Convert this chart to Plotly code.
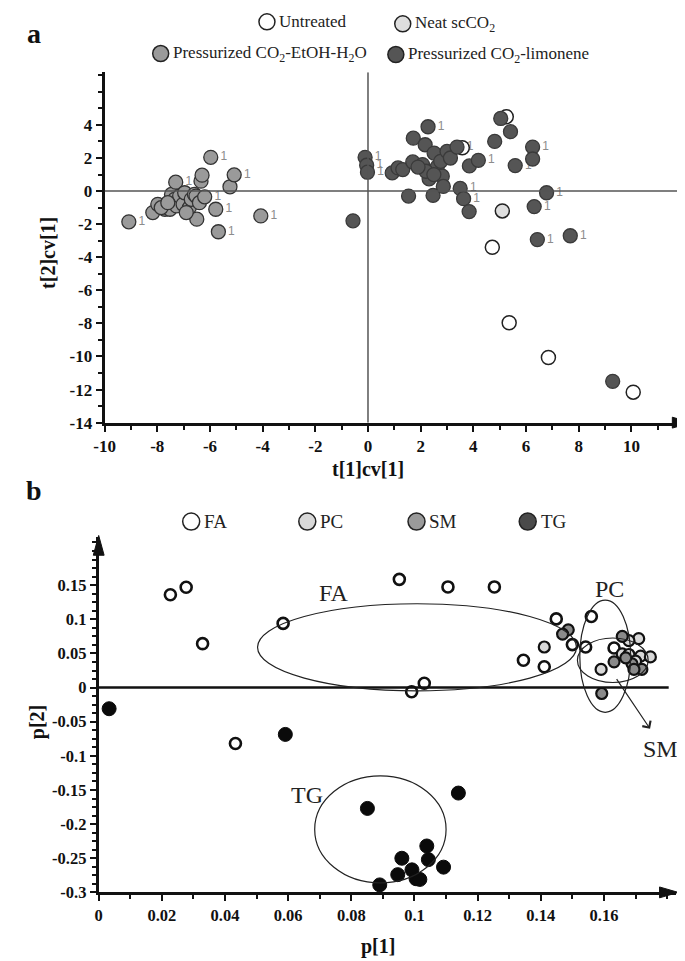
import plotly.graph_objects as go

W, H = 685, 961

# ---------------- Panel a data (scores) ----------------
untreated_x = [4.72, 5.36, 6.85, 10.07, 5.25, 3.58]
untreated_y = [-3.40, -7.96, -10.06, -12.16, 4.50, 2.62]

neat_x = [5.10]
neat_y = [-1.20]

etoh_x = [-9.08, -8.17, -7.98, -7.71, -7.52, -7.46, -7.30, -7.34, -7.27, -7.15, -7.02,
          -6.96, -6.78, -6.71, -6.59, -6.53, -6.50, -6.40, -6.34, -6.30, -5.97, -5.78,
          -5.68, -5.24, -5.08, -4.07, -7.85, -6.90, -7.60, -6.20]
etoh_y = [-1.86, -1.30, -0.80, -1.10, -1.10, -0.20, 0.54, -0.50, -0.90, -0.30, -0.80,
          -0.10, -1.00, -0.50, -0.20, -0.30, -1.70, -0.70, 0.60, 0.96, 2.04, -1.10,
          -2.46, 0.26, 0.98, -1.50, -1.00, -1.30, -0.70, -0.35]
etoh_lbl = ["1", "", "", "", "", "", "1", "", "1", "", "",
            "", "", "", "", "1", "", "", "", "", "1", "1",
            "1", "", "1", "1", "", "", "", "1"]

limo_x = [-0.57, -0.11, -0.05, -0.02, 0.92, 1.14, 1.32, 1.54, 1.70, 1.72, 2.07, 2.17,
          2.28, 2.32, 2.47, 2.51, 2.63, 2.76, 2.82, 2.86, 3.00, 3.13, 3.38, 3.50,
          3.63, 3.84, 3.85, 4.19, 4.81, 5.04, 5.41, 5.59, 6.25, 6.25, 6.31, 6.78,
          6.43, 7.68, 9.29, 2.20, 1.90, 2.50]
limo_y = [-1.80, 2.04, 1.56, 1.14, 1.10, 1.40, 1.30, -0.30, 1.76, 3.20, 1.60, 2.80,
          3.89, 0.74, -0.26, 2.30, 1.46, 1.80, 0.90, 0.28, 2.40, 2.00, 2.66, 0.16,
          -0.46, -1.24, 1.52, 1.86, 3.00, 4.39, 3.59, 1.54, 2.66, 1.94, -0.94, -0.10,
          -2.93, -2.70, -11.50, 1.20, 1.45, 1.00]
limo_lbl = ["", "1", "1", "1", "", "", "1", "", "", "", "", "",
            "1", "", "", "", "", "", "", "", "", "", "1", "1",
            "1", "", "", "1", "", "", "", "1", "1", "", "1", "1",
            "1", "1", "", "", "", ""]

# ---------------- Panel b data (loadings) ----------------
fa_x = [0.0227, 0.0277, 0.0329, 0.0584, 0.0433, 0.0952, 0.1106, 0.1253, 0.1449, 0.1345,
        0.1411, 0.1031, 0.0991, 0.1500, 0.1542, 0.1560, 0.1632]
fa_y = [0.136, 0.147, 0.0643, 0.094, -0.082, 0.1585, 0.1474, 0.1474, 0.1006, 0.0401,
        0.0304, 0.0064, -0.0062, 0.0629, 0.0594, 0.1040, 0.0580]

pc_x = [0.1411, 0.1591, 0.1710, 0.1679, 0.1658, 0.1679, 0.1716, 0.1747, 0.1700]
pc_y = [0.0594, 0.0266, 0.0716, 0.0687, 0.0493, 0.0484, 0.0460, 0.0449, 0.0387]

sm_x = [0.1487, 0.1469, 0.1593, 0.1658, 0.1632, 0.1689, 0.1720, 0.1695, 0.1669]
sm_y = [0.0846, 0.0783, -0.0087, 0.0749, 0.0377, 0.0348, 0.0266, 0.0266, 0.0435]

tg_x = [0.0033, 0.0591, 0.0851, 0.1139, 0.1039, 0.0960, 0.1044, 0.1092, 0.0947, 0.0992,
        0.1005, 0.1017, 0.0890]
tg_y = [-0.031, -0.0686, -0.177, -0.1545, -0.232, -0.250, -0.252, -0.263, -0.274, -0.267,
        -0.280, -0.281, -0.289]

# group ellipses: centre x, centre y, half-width, half-height
ell_cx = [0.1008, 0.1604, 0.1628, 0.0892]
ell_cy = [0.059, 0.046, 0.040, -0.2077]
ell_rx = [0.0505, 0.00805, 0.0112, 0.0208]
ell_ry = [0.0638, 0.0822, 0.0326, 0.0783]

# group labels
grp_lbl = ["FA", "PC", "SM", "TG"]
grp_lbl_x = [0.0745, 0.1617, 0.1778, 0.0661]
grp_lbl_y = [0.138, 0.145, -0.0893, -0.157]

a_xticks = list(range(-10, 11, 2))
a_yticks = list(range(-14, 5, 2))
b_xticks = [0, 0.02, 0.04, 0.06, 0.08, 0.1, 0.12, 0.14, 0.16]
b_xtext = ["0", "0.02", "0.04", "0.06", "0.08", "0.1", "0.12", "0.14", "0.16"]
b_yticks = [-0.3, -0.25, -0.2, -0.15, -0.1, -0.05, 0, 0.05, 0.1, 0.15]
b_ytext = ["-0.3", "-0.25", "-0.2", "-0.15", "-0.1", "-0.05", "0", "0.05", "0.1", "0.15"]

# ---------------- layout geometry (pixels) ----------------
A_L, A_R, A_T, A_B = 87, 681, 65, 419
A_XR = [-10, 12.19]
A_YR = [-14, 7.18]
B_L, B_R, B_T, B_B = 81, 668, 535, 893.7
B_XR = [0, 0.1829]
B_YR = [-0.3, 0.2199]

SERIF = "Liberation Serif, Times New Roman, serif"
SANS = "Liberation Sans, Arial, sans-serif"
INK = "#111111"


def px(x):
    return x / W


def py(y):
    return 1 - y / H


fig = go.Figure()

A_SIZE = 14
lblfont = dict(family=SANS, size=12, color="#8c8c8c")

# labels "1" (drawn under the markers)
ex = [x for x, l in zip(etoh_x, etoh_lbl) if l]
ey = [y for y, l in zip(etoh_y, etoh_lbl) if l]
et = [l for l in etoh_lbl if l]
lx = [x for x, l in zip(limo_x, limo_lbl) if l]
ly = [y for y, l in zip(limo_y, limo_lbl) if l]
lt = [l for l in limo_lbl if l]
fig.add_trace(go.Scatter(x=ex + lx, y=ey + ly, mode="markers+text", text=et + lt,
                         textposition="middle right", textfont=lblfont,
                         marker=dict(size=A_SIZE, opacity=0), hoverinfo="skip",
                         showlegend=False, xaxis="x", yaxis="y"))

fig.add_trace(go.Scatter(x=untreated_x, y=untreated_y, mode="markers",
                         marker=dict(size=A_SIZE, color="white", line=dict(color="#222", width=1.5)),
                         showlegend=False, xaxis="x", yaxis="y"))
fig.add_trace(go.Scatter(x=etoh_x, y=etoh_y, mode="markers",
                         marker=dict(size=A_SIZE, color="#9a9a9a", line=dict(color="#333333", width=1.3)),
                         showlegend=False, xaxis="x", yaxis="y"))
fig.add_trace(go.Scatter(x=limo_x, y=limo_y, mode="markers",
                         marker=dict(size=A_SIZE, color="#555555", line=dict(color="#3a3a3a", width=1.3)),
                         showlegend=False, xaxis="x", yaxis="y"))
fig.add_trace(go.Scatter(x=neat_x, y=neat_y, mode="markers",
                         marker=dict(size=A_SIZE, color="#dedede", line=dict(color="#222", width=1.5)),
                         showlegend=False, xaxis="x", yaxis="y"))

# Panel b markers
fig.add_trace(go.Scatter(x=fa_x, y=fa_y, mode="markers",
                         marker=dict(size=11, color="white", line=dict(color=INK, width=2.6)),
                         showlegend=False, xaxis="x2", yaxis="y2"))
fig.add_trace(go.Scatter(x=pc_x, y=pc_y, mode="markers",
                         marker=dict(size=11, color="#d8d8d8", line=dict(color=INK, width=2.2)),
                         showlegend=False, xaxis="x2", yaxis="y2"))
fig.add_trace(go.Scatter(x=sm_x, y=sm_y, mode="markers",
                         marker=dict(size=11, color="#8a8a8a", line=dict(color=INK, width=2.2)),
                         showlegend=False, xaxis="x2", yaxis="y2"))
fig.add_trace(go.Scatter(x=tg_x, y=tg_y, mode="markers",
                         marker=dict(size=14, color="#0a0a0a", line=dict(color="#0a0a0a", width=1)),
                         showlegend=False, xaxis="x2", yaxis="y2"))

# ---------------- custom legends (pixel overlay axis) ----------------
leg_a_names = ["Untreated", "Neat scCO<sub>2</sub>", "Pressurized CO<sub>2</sub>-EtOH-H<sub>2</sub>O",
               "Pressurized CO<sub>2</sub>-limonene"]
leg_a_fill = ["white", "#dedede", "#9a9a9a", "#555555"]
leg_a_cx = [252, 390, 144, 383]
leg_a_cy = [14, 16, 46, 47]

leg_b_names = ["FA", "PC", "SM", "TG"]
leg_b_fill = ["white", "#d8d8d8", "#9a9a9a", "#4a4a4a"]
leg_b_cx = [175, 293, 404, 517]
leg_b_cy = [519, 519, 519, 519]

fig.add_trace(go.Scatter(x=leg_a_cx, y=leg_a_cy, mode="markers",
                         marker=dict(size=16, color=leg_a_fill, line=dict(color="#222", width=1.5)),
                         hoverinfo="skip", showlegend=False, xaxis="x3", yaxis="y3"))
fig.add_trace(go.Scatter(x=leg_b_cx, y=leg_b_cy, mode="markers",
                         marker=dict(size=17, color=leg_b_fill, line=dict(color="#222", width=1.5)),
                         hoverinfo="skip", showlegend=False, xaxis="x3", yaxis="y3"))

ann = []
for name, cx, cy in zip(leg_a_names, leg_a_cx, leg_a_cy):
    ann.append(dict(x=px(cx + 10), y=py(cy), xref="paper", yref="paper", text=name,
                    showarrow=False, xanchor="left", yanchor="middle",
                    font=dict(family=SERIF, size=17, color="#222")))
for name, cx, cy in zip(leg_b_names, leg_b_cx, leg_b_cy):
    ann.append(dict(x=px(cx + 11), y=py(cy), xref="paper", yref="paper", text=name,
                    showarrow=False, xanchor="left", yanchor="middle",
                    font=dict(family=SERIF, size=19, color="#222")))


def label(x, y, text, size, angle=0, bold=True):
    f = dict(family=SERIF, size=size, color=INK)
    if bold:
        f["weight"] = "bold"
    return dict(x=px(x), y=py(y), xref="paper", yref="paper", text=text, showarrow=False,
                xanchor="center", yanchor="middle", textangle=angle, font=f)


# panel letters and axis titles
ann.append(label(15, 26, "a", 28))
ann.append(label(15, 488, "b", 28))
ann.append(label(355, 466, "t[1]cv[1]", 20))
ann.append(label(30, 248, "t[2]cv[1]", 20, angle=-90))
ann.append(label(365, 948, "p[1]", 20))
ann.append(label(19, 722, "p[2]", 20, angle=-90))

# group labels in panel b
for t, x, y in zip(grp_lbl, grp_lbl_x, grp_lbl_y):
    ann.append(dict(x=x, y=y, xref="x2", yref="y2", text=t, showarrow=False,
                    xanchor="center", yanchor="middle",
                    font=dict(family=SERIF, size=24, color="#222")))

# SM arrow
ann.append(dict(x=0.1746, y=-0.0604, ax=0.1637, ay=0.0145, xref="x2", yref="y2",
                axref="x2", ayref="y2", showarrow=True, arrowhead=4, arrowsize=1.6,
                arrowwidth=1.2, arrowcolor="#222", text=""))

shapes = []
# zero lines panel a
shapes.append(dict(type="line", xref="x", yref="y", x0=A_XR[0], x1=A_XR[1], y0=0, y1=0,
                   line=dict(color="#555", width=1.5)))
shapes.append(dict(type="line", xref="x", yref="y", x0=0, x1=0, y0=A_YR[0], y1=A_YR[1],
                   line=dict(color="#555", width=1.5)))
# zero line panel b
shapes.append(dict(type="line", xref="x2", yref="y2", x0=0, x1=0.1805, y0=0, y1=0,
                   line=dict(color=INK, width=2.6)))
# ellipses
for cx, cy, rx, ry in zip(ell_cx, ell_cy, ell_rx, ell_ry):
    shapes.append(dict(type="circle", xref="x2", yref="y2", x0=cx - rx, x1=cx + rx,
                       y0=cy - ry, y1=cy + ry, line=dict(color="#222", width=1.2)))


def arrow_right(tipx, y, length=19, half=5.5):
    return (f"M {px(tipx)},{py(y)} L {px(tipx - length)},{py(y - half)} "
            f"L {px(tipx - length)},{py(y + half)} Z")


def arrow_up(x, tipy, length=20, half=5.5):
    return (f"M {px(x)},{py(tipy)} L {px(x - half)},{py(tipy + length)} "
            f"L {px(x + half)},{py(tipy + length)} Z")


for p in [arrow_right(A_R + 2, A_B), arrow_right(B_R + 2, B_B), arrow_up(B_L, B_T - 2)]:
    shapes.append(dict(type="path", xref="paper", yref="paper", path=p,
                       fillcolor=INK, line=dict(color=INK, width=1)))

common = dict(showgrid=False, zeroline=False, showline=True, linecolor=INK, linewidth=3,
              ticks="outside", ticklen=6, tickwidth=2, tickcolor=INK)
tf_a = dict(family=SERIF, size=17, color=INK, weight="bold")
tf_b = dict(family=SERIF, size=16.5, color=INK, weight="bold")

fig.update_layout(
    width=W, height=H,
    margin=dict(l=0, r=0, t=0, b=0),
    paper_bgcolor="white", plot_bgcolor="rgba(0,0,0,0)",
    showlegend=False,
    xaxis=dict(domain=[px(A_L), px(A_R)], range=A_XR, anchor="y", tickvals=a_xticks,
               ticktext=[str(v) for v in a_xticks], tickfont=tf_a,
               minor=dict(dtick=1, tick0=0, ticklen=4, tickwidth=1.5, tickcolor=INK, ticks="outside"),
               **common),
    yaxis=dict(domain=[py(A_B), py(A_T)], range=A_YR, anchor="x", tickvals=a_yticks,
               ticktext=[str(v) for v in a_yticks], tickfont=tf_a,
               minor=dict(dtick=1, tick0=0, ticklen=4, tickwidth=1.5, tickcolor=INK, ticks="outside"),
               **common),
    xaxis2=dict(domain=[px(B_L), px(B_R)], range=B_XR, anchor="y2", tickvals=b_xticks,
                ticktext=b_xtext, tickfont=tf_b,
                minor=dict(dtick=0.01, tick0=0, ticklen=4, tickwidth=1.5, tickcolor=INK, ticks="outside"),
                **common),
    yaxis2=dict(domain=[py(B_B), py(B_T)], range=B_YR, anchor="x2", tickvals=b_yticks,
                ticktext=b_ytext, tickfont=tf_b,
                minor=dict(dtick=0.0125, tick0=0, ticklen=4, tickwidth=1.5, tickcolor=INK, ticks="outside"),
                **common),
    xaxis3=dict(domain=[0, 1], range=[0, W], visible=False, fixedrange=True, anchor="y3"),
    yaxis3=dict(domain=[0, 1], range=[H, 0], visible=False, fixedrange=True, anchor="x3"),
    annotations=ann,
    shapes=shapes,
)

fig.write_html("out.html")
